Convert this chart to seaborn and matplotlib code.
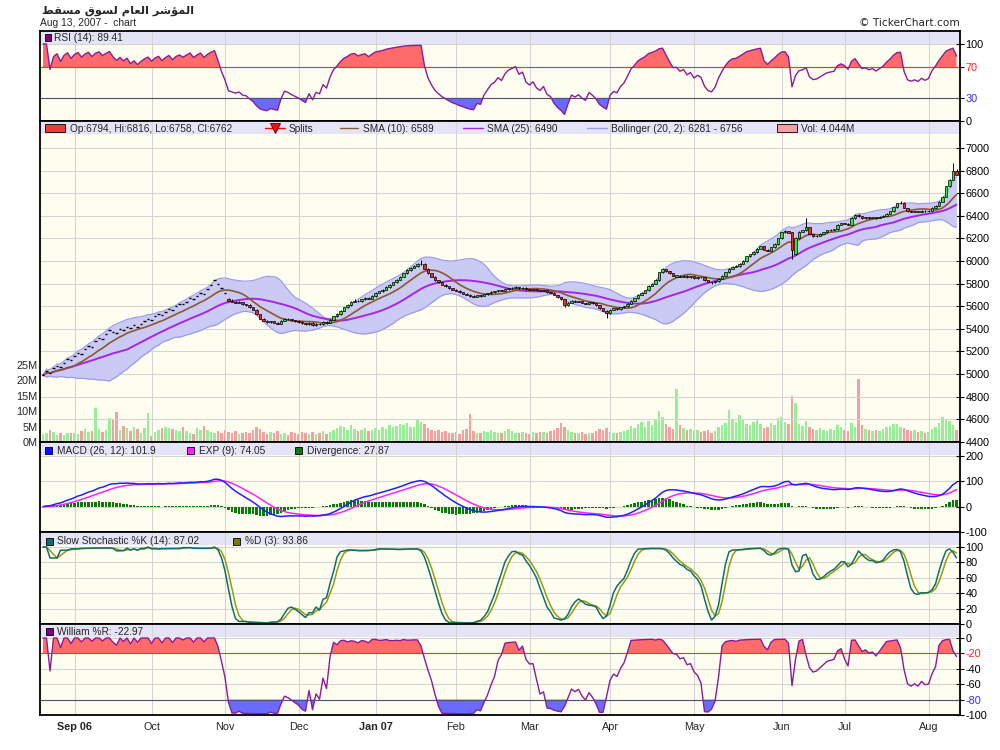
import numpy as np
import pandas as pd
import matplotlib
matplotlib.use("Agg")
import matplotlib.pyplot as plt
import seaborn as sns
from matplotlib.patches import Rectangle
from matplotlib.lines import Line2D

# ---------------------------
# Values
# ---------------------------
title_ar = "المؤشر العام لسوق مسقط"
subtitle = "Aug 13, 2007 -  chart"
credit = "© TickerChart.com"

month_labels = ["Sep 06", "Oct", "Nov", "Dec", "Jan 07", "Feb", "Mar",
                "Apr", "May", "Jun", "Jul", "Aug"]
month_pos = [9, 31, 52, 73, 95, 118, 139, 162, 186, 211, 229, 253]
bold_months = ["Sep 06", "Jan 07"]

# first weeks: only closing prices (drawn as dashes)
dash_close = [4990, 5025, 5010, 5050, 5070, 5060, 5100, 5130, 5120, 5160,
              5190, 5180, 5220, 5250, 5240, 5290, 5320, 5310, 5350, 5390,
              5375, 5365, 5400, 5390, 5420, 5405, 5430, 5420, 5445, 5470,
              5490, 5480, 5510, 5530, 5520, 5550, 5575, 5565, 5600, 5620,
              5615, 5640, 5670, 5660, 5690, 5720, 5710, 5750, 5790, 5830,
              5800, 5760, 5720]

candle_open = [5660, 5650, 5640, 5630, 5635, 5615, 5610, 5590, 5570, 5530,
               5490, 5470, 5460, 5465, 5455, 5445, 5470, 5490, 5485, 5475,
               5470, 5460, 5450, 5440, 5455, 5430, 5445, 5440, 5460, 5452,
               5480, 5510, 5530, 5560, 5590, 5610, 5640, 5650, 5645, 5660,
               5670, 5665, 5690, 5720, 5730, 5745, 5770, 5790, 5810, 5835,
               5860, 5890, 5920, 5940, 5955, 5970, 5975, 5930, 5890, 5860,
               5830, 5810, 5790, 5775, 5760, 5745, 5735, 5722, 5712, 5700,
               5690, 5685, 5695, 5690, 5705, 5715, 5725, 5730, 5740, 5735,
               5750, 5760, 5765, 5770, 5760, 5765, 5750, 5745, 5750, 5740,
               5735, 5740, 5725, 5720, 5700, 5680, 5660, 5610, 5630, 5650,
               5640, 5645, 5630, 5620, 5635, 5625, 5610, 5580, 5560, 5540,
               5570, 5580, 5575, 5590, 5600, 5620, 5650, 5670, 5700, 5720,
               5740, 5780, 5800, 5830, 5900, 5930, 5910, 5890, 5860, 5870,
               5860, 5870, 5855, 5865, 5850, 5860, 5855, 5830, 5815, 5810,
               5820, 5845, 5870, 5900, 5930, 5950, 5955, 5975, 6000, 6040,
               6060, 6080, 6110, 6130, 6100, 6090, 6120, 6150, 6200, 6255,
               6265, 6257, 6060, 6200, 6260, 6270, 6300, 6240, 6220, 6225,
               6240, 6255, 6270, 6275, 6280, 6320, 6335, 6330, 6320, 6380,
               6410, 6395, 6380, 6385, 6380, 6385, 6380, 6390, 6400, 6420,
               6440, 6475, 6510, 6515, 6470, 6440, 6435, 6440, 6435, 6445,
               6440, 6445, 6470, 6490, 6525, 6570, 6660, 6720, 6794]

candle_high = [5670, 5660, 5648, 5645, 5640, 5622, 5615, 5595, 5575, 5535,
               5495, 5475, 5472, 5468, 5460, 5475, 5495, 5498, 5490, 5480,
               5475, 5465, 5455, 5462, 5458, 5450, 5450, 5468, 5465, 5488,
               5515, 5540, 5565, 5595, 5620, 5648, 5660, 5655, 5668, 5680,
               5678, 5695, 5725, 5738, 5752, 5775, 5798, 5818, 5842, 5868,
               5895, 5928, 5948, 5962, 5978, 6009, 5980, 5935, 5895, 5865,
               5835, 5815, 5795, 5780, 5765, 5750, 5740, 5728, 5718, 5705,
               5695, 5700, 5698, 5710, 5720, 5730, 5735, 5745, 5742, 5755,
               5765, 5770, 5775, 5772, 5770, 5768, 5755, 5755, 5752, 5742,
               5745, 5742, 5728, 5722, 5702, 5684, 5662, 5635, 5655, 5652,
               5650, 5648, 5632, 5640, 5638, 5628, 5612, 5585, 5562, 5575,
               5585, 5582, 5595, 5605, 5625, 5655, 5675, 5705, 5725, 5745,
               5785, 5805, 5838, 5905, 5940, 5932, 5912, 5892, 5878, 5875,
               5875, 5872, 5868, 5866, 5862, 5862, 5858, 5832, 5818, 5825,
               5850, 5875, 5905, 5935, 5955, 5962, 5980, 6005, 6045, 6065,
               6085, 6115, 6135, 6132, 6102, 6125, 6155, 6205, 6260, 6270,
               6268, 6260, 6210, 6265, 6275, 6380, 6302, 6242, 6230, 6245,
               6260, 6275, 6280, 6285, 6325, 6340, 6338, 6332, 6385, 6415,
               6412, 6398, 6390, 6388, 6390, 6388, 6395, 6405, 6425, 6445,
               6480, 6515, 6535, 6518, 6472, 6445, 6445, 6442, 6450, 6448,
               6450, 6475, 6495, 6530, 6575, 6665, 6725, 6867, 6816]

candle_low = [5645, 5635, 5625, 5625, 5610, 5605, 5585, 5565, 5525, 5485,
              5465, 5455, 5455, 5450, 5440, 5440, 5465, 5480, 5470, 5462,
              5455, 5445, 5435, 5435, 5425, 5425, 5435, 5435, 5445, 5448,
              5475, 5505, 5525, 5555, 5585, 5605, 5635, 5640, 5640, 5655,
              5660, 5660, 5685, 5715, 5725, 5740, 5765, 5785, 5805, 5830,
              5855, 5885, 5915, 5935, 5950, 5965, 5925, 5885, 5855, 5825,
              5805, 5785, 5770, 5755, 5740, 5730, 5718, 5708, 5695, 5685,
              5680, 5680, 5685, 5686, 5700, 5710, 5720, 5725, 5730, 5730,
              5745, 5755, 5760, 5755, 5755, 5745, 5740, 5740, 5735, 5730,
              5730, 5720, 5715, 5695, 5675, 5655, 5590, 5605, 5625, 5635,
              5635, 5625, 5615, 5615, 5620, 5605, 5575, 5555, 5495, 5535,
              5565, 5570, 5570, 5585, 5595, 5615, 5645, 5665, 5695, 5715,
              5735, 5775, 5795, 5825, 5895, 5905, 5885, 5865, 5856, 5855,
              5855, 5850, 5850, 5845, 5845, 5850, 5825, 5810, 5800, 5805,
              5815, 5840, 5865, 5895, 5925, 5945, 5950, 5970, 5995, 6035,
              6055, 6075, 6105, 6095, 6085, 6085, 6115, 6145, 6195, 6250,
              6245, 6018, 6055, 6195, 6255, 6265, 6235, 6215, 6215, 6220,
              6235, 6250, 6265, 6270, 6275, 6315, 6325, 6315, 6315, 6375,
              6390, 6375, 6375, 6375, 6378, 6375, 6378, 6385, 6395, 6415,
              6435, 6470, 6505, 6465, 6435, 6430, 6430, 6430, 6432, 6435,
              6435, 6440, 6465, 6485, 6520, 6565, 6655, 6715, 6758]

candle_close = [5650, 5640, 5630, 5635, 5615, 5610, 5590, 5570, 5530, 5490,
                5470, 5460, 5465, 5455, 5445, 5470, 5490, 5485, 5475, 5468,
                5460, 5450, 5440, 5455, 5430, 5445, 5440, 5460, 5450, 5480,
                5510, 5530, 5560, 5590, 5610, 5640, 5650, 5645, 5660, 5670,
                5665, 5690, 5720, 5730, 5745, 5770, 5790, 5810, 5835, 5860,
                5890, 5920, 5940, 5955, 5970, 5975, 5930, 5890, 5860, 5830,
                5810, 5790, 5775, 5760, 5745, 5735, 5722, 5712, 5700, 5690,
                5685, 5695, 5690, 5705, 5715, 5725, 5730, 5740, 5735, 5750,
                5760, 5765, 5770, 5760, 5765, 5750, 5745, 5750, 5740, 5735,
                5740, 5725, 5720, 5700, 5680, 5660, 5610, 5630, 5650, 5640,
                5645, 5630, 5620, 5635, 5625, 5610, 5580, 5560, 5540, 5570,
                5580, 5575, 5590, 5600, 5620, 5650, 5670, 5700, 5720, 5740,
                5780, 5800, 5830, 5900, 5930, 5910, 5890, 5870, 5872, 5860,
                5870, 5855, 5865, 5850, 5860, 5855, 5830, 5815, 5810, 5820,
                5845, 5870, 5900, 5930, 5950, 5955, 5975, 6000, 6040, 6060,
                6080, 6110, 6130, 6100, 6090, 6120, 6150, 6200, 6255, 6265,
                6250, 6100, 6200, 6260, 6270, 6300, 6240, 6220, 6225, 6240,
                6255, 6270, 6275, 6280, 6320, 6335, 6330, 6320, 6380, 6410,
                6395, 6380, 6385, 6380, 6385, 6380, 6390, 6400, 6420, 6440,
                6475, 6510, 6515, 6470, 6440, 6435, 6440, 6435, 6445, 6440,
                6445, 6470, 6490, 6525, 6570, 6660, 6720, 6794, 6762]

# daily volume, millions
volume_m = [2.5, 2.8, 3.8, 3.2, 2.4, 3.0, 2.2, 2.9, 2.8, 3.0,
            2.5, 3.5, 4.2, 3.1, 3.5, 11.0, 4.1, 3.2, 3.8, 7.8,
            7.6, 9.7, 4.0, 5.2, 4.5, 3.5, 4.8, 4.2, 3.0, 4.6,
            9.3, 2.0, 3.2, 3.8, 4.5, 5.0, 4.6, 4.2, 4.0, 3.5,
            4.8, 3.6, 3.0, 2.5, 4.6, 3.8, 5.2, 4.0, 3.4, 3.0,
            3.6, 2.8, 4.0,
            3.2, 2.8, 3.5, 2.6, 3.0, 3.4, 2.9, 3.8, 5.0, 4.2,
            3.1, 2.5, 3.3, 2.8, 3.6, 2.7, 3.0, 2.4, 3.2, 2.9,
            2.6, 3.1, 2.8, 2.5, 3.4, 2.6, 3.0, 3.5, 2.7, 3.3,
            3.8, 4.5, 5.2, 4.8, 4.0, 5.5, 4.2, 3.6, 4.0, 4.4,
            3.5, 4.0, 4.6, 3.8, 5.0, 4.2, 5.6, 4.8, 5.2, 6.0,
            5.5, 6.2, 4.8, 5.0, 7.2, 6.5, 5.8, 4.6, 4.0, 3.6,
            3.8, 3.2, 3.5, 2.8, 3.0, 3.4, 2.6, 3.8, 4.2, 9.0,
            3.5, 3.0, 2.8, 3.6, 3.2, 4.0, 3.4, 3.0, 2.8, 3.6,
            4.2, 3.5, 3.0, 2.8, 3.2, 3.0, 2.6, 3.4, 2.9, 3.1,
            3.3, 2.8, 3.5, 4.0, 4.6, 6.2, 5.0, 3.8, 3.2, 3.0,
            2.8, 3.4, 2.6, 3.0, 2.8, 3.6, 4.2, 3.8, 4.5, 3.2,
            3.0, 2.8, 3.4, 3.6, 4.0, 5.2, 4.6, 5.8, 6.5, 5.0,
            6.8, 5.5, 7.0, 10.2, 8.0, 6.0, 4.8, 4.2, 17.2, 5.6,
            4.5, 3.8, 4.2, 3.6, 4.0, 3.2, 3.5, 3.8, 3.0, 3.6,
            4.8, 5.6, 6.2, 10.5, 7.0, 6.5, 8.8, 7.5, 6.0, 5.5,
            6.4, 7.2, 5.8, 4.6, 5.0, 6.2, 5.5, 7.8, 8.2, 6.5,
            5.8, 15.0, 12.5, 6.0, 5.2, 6.8, 5.0, 4.2, 3.8, 4.5,
            4.0, 3.6, 4.2, 3.8, 5.5, 4.8, 4.0, 3.6, 6.2, 5.0,
            20.5, 5.5, 4.2, 3.8, 3.5, 4.0, 3.6, 4.2, 4.8, 5.2,
            6.0, 5.8, 5.0, 4.6, 4.0, 3.5, 3.8, 3.2, 3.6, 3.0,
            3.4, 4.2, 5.0, 6.2, 8.0, 7.5, 6.8, 5.5, 4.044]

# legend texts as printed on the chart
rsi_label = "RSI (14): 89.41"
ohlc_label = "Op:6794, Hi:6816, Lo:6758, Cl:6762"
sma10_label = "SMA (10): 6589"
sma25_label = "SMA (25): 6490"
boll_label = "Bollinger (20, 2): 6281 - 6756"
vol_label = "Vol: 4.044M"
macd_label = "MACD (26, 12): 101.9"
exp_label = "EXP (9): 74.05"
div_label = "Divergence: 27.87"
stk_label = "Slow Stochastic %K (14): 87.02"
std_label = "%D (3): 93.86"
wr_label = "William %R: -22.97"

# ---------------------------
# Arabic title: join letters and put them in visual order
# ---------------------------
AR_FORMS = {
    "ا": ("\ufe8d", "\ufe8e", None, None),
    "ؤ": ("\ufe85", "\ufe86", None, None),
    "ر": ("\ufead", "\ufeae", None, None),
    "و": ("\ufeed", "\ufeee", None, None),
    "ل": ("\ufedd", "\ufede", "\ufedf", "\ufee0"),
    "م": ("\ufee1", "\ufee2", "\ufee3", "\ufee4"),
    "ش": ("\ufeb5", "\ufeb6", "\ufeb7", "\ufeb8"),
    "ع": ("\ufec9", "\ufeca", "\ufecb", "\ufecc"),
    "س": ("\ufeb1", "\ufeb2", "\ufeb3", "\ufeb4"),
    "ق": ("\ufed5", "\ufed6", "\ufed7", "\ufed8"),
    "ط": ("\ufec1", "\ufec2", "\ufec3", "\ufec4"),
}

def shape_arabic(text):
    words = []
    for word in text.split(" "):
        glyphs = []
        for k, ch in enumerate(word):
            iso, fin, ini, med = AR_FORMS[ch]
            joins_prev = k > 0 and AR_FORMS[word[k - 1]][2] is not None
            joins_next = k < len(word) - 1 and ini is not None
            if joins_prev and joins_next:
                glyphs.append(med)
            elif joins_prev:
                glyphs.append(fin)
            elif joins_next:
                glyphs.append(ini)
            else:
                glyphs.append(iso)
        words.append("".join(reversed(glyphs)))
    return " ".join(reversed(words))

# ---------------------------
# Series + indicators
# ---------------------------
n_dash = len(dash_close)
assert len(candle_open) == len(candle_high) == len(candle_low) == len(candle_close)
close = np.array(dash_close + candle_close, float)
opn = np.array(dash_close + candle_open, float)
high = np.array(dash_close + candle_high, float)
low = np.array(dash_close + candle_low, float)
vol = np.array(volume_m, float)
assert len(vol) == len(close)
idx = np.arange(len(close))

cs = pd.Series(close)
sma10 = cs.rolling(10, min_periods=1).mean().values
sma25 = cs.rolling(25, min_periods=1).mean().values
mid20 = cs.rolling(20, min_periods=1).mean()
sd20 = cs.rolling(20, min_periods=1).std(ddof=0)
boll_up = (mid20 + 2 * sd20).values
boll_lo = (mid20 - 2 * sd20).values

# RSI with exponential averages of gains / losses
delta = cs.diff().fillna(0)
gain = delta.clip(lower=0).ewm(span=14, adjust=False).mean()
loss = (-delta.clip(upper=0)).ewm(span=14, adjust=False).mean()
rsi = (100 * gain / (gain + loss).replace(0, np.nan)).fillna(100).values

macd = cs.ewm(span=12, adjust=False).mean() - cs.ewm(span=26, adjust=False).mean()
signal = macd.ewm(span=9, adjust=False).mean()
diverg = (macd - signal).values
macd, signal = macd.values, signal.values

hh = pd.Series(high).rolling(14, min_periods=1).max()
ll = pd.Series(low).rolling(14, min_periods=1).min()
rng = (hh - ll).replace(0, np.nan)
fast_k = (100 * (cs - ll) / rng).fillna(100)
slow_k = fast_k.rolling(3, min_periods=1).mean()
slow_d = slow_k.rolling(3, min_periods=1).mean()
will_r = (-100 * (hh - cs) / rng).fillna(0).values
slow_k, slow_d = slow_k.values, slow_d.values

prev_close = np.r_[close[0], close[:-1]]
ref = np.where(idx < n_dash, prev_close, opn)
vol_up = close >= ref

# ---------------------------
# Figure setup
# ---------------------------
sns.set_style("white")
plt.rcParams['font.family'] = ['Liberation Sans', 'DejaVu Sans']
plt.rcParams['axes.unicode_minus'] = False

W, H = 1000, 750
CREAM = "#FEFEF0"
BAND = "#E4E4F6"
GRID = "#D4D4D4"
FS_TICK = 7.8
FS_LEG = 7.3
XLO, XHI = -0.86, 262.0

fig = plt.figure(figsize=(W / 100, H / 100), dpi=100)

def fx(px):
    return px / W

def fy(py):
    return 1 - py / H

def add_panel(top, bottom, **kw):
    ax = fig.add_axes([fx(40), fy(bottom), 920 / W, (bottom - top) / H], **kw)
    ax.set_xlim(XLO, XHI)
    return ax

def dress(ax, top, bottom, ylim, ticks, labels, band=True, face=True):
    ax.set_ylim(*ylim)
    if face:
        ax.set_facecolor(CREAM)
    if band:
        frac = 13 / (bottom - top)
        ax.add_patch(Rectangle((0, 1 - frac), 1, frac, transform=ax.transAxes,
                               facecolor=BAND, edgecolor="none", zorder=0.2))
    ax.yaxis.tick_right()
    ax.set_yticks(ticks)
    ax.set_yticklabels(labels)
    ax.tick_params(axis="y", direction="inout", length=6, width=0.8, pad=1,
                   labelsize=FS_TICK, colors="black")
    ax.set_xticks(month_pos)
    ax.tick_params(axis="x", length=0, labelbottom=False)
    ax.grid(True, color=GRID, lw=0.8)
    ax.set_axisbelow(True)
    for s in ax.spines.values():
        s.set_color("black")
        s.set_linewidth(1.3)

def legend_box(x0, y0, w, h, color):
    fig.add_artist(Rectangle((fx(x0), fy(y0 + h)), w / W, h / H,
                             transform=fig.transFigure, facecolor=color,
                             edgecolor="black", lw=0.6, zorder=10))

def legend_line(x0, x1, y, color, **kw):
    fig.add_artist(Line2D([fx(x0), fx(x1)], [fy(y), fy(y)],
                          transform=fig.transFigure, color=color, zorder=10, **kw))

def legend_text(x, y, s):
    fig.text(fx(x), fy(y), s, fontsize=FS_LEG, ha="left", va="center", zorder=11)

# ---------------------------
# RSI panel
# ---------------------------
ax_rsi = add_panel(31, 121)
dress(ax_rsi, 31, 121, (0, 116.9), [0, 30, 70, 100], ["0", "30", "70", "100"])
ax_rsi.fill_between(idx, rsi, 70, where=rsi >= 70, interpolate=True,
                    color="#FF6A6A", lw=0, zorder=1.5)
ax_rsi.fill_between(idx, rsi, 30, where=rsi <= 30, interpolate=True,
                    color="#6A6AFF", lw=0, zorder=1.5)
ax_rsi.axhline(70, color="#FF3030", lw=0.8, zorder=1.6)
ax_rsi.axhline(30, color="#505078", lw=0.8, zorder=1.6)
sns.lineplot(x=idx, y=rsi, ax=ax_rsi, color="#8A1C9A", lw=1.0, zorder=2)
ax_rsi.set_xlabel("")
ax_rsi.set_ylabel("")
ax_rsi.set_xlim(XLO, XHI)
ax_rsi.get_yticklabels()[1].set_color("#3030FF")
ax_rsi.get_yticklabels()[2].set_color("#FF2020")

# ---------------------------
# Price + volume panel
# ---------------------------
ax_vol = add_panel(121, 442)
ax_vol.set_facecolor(CREAM)
ax_vol.add_patch(Rectangle((0, 1 - 13 / 321), 1, 13 / 321, transform=ax_vol.transAxes,
                           facecolor=BAND, edgecolor="none", zorder=0.2))
ax_vol.bar(idx, vol, width=0.62, color=np.where(vol_up, "#98EE98", "#F4A0A0"),
           lw=0, zorder=1)
ax_vol.set_ylim(0, 104.2)
ax_vol.set_yticks([0, 5, 10, 15, 20, 25])
ax_vol.set_yticklabels(["0M", "5M", "10M", "15M", "20M", "25M"])
ax_vol.tick_params(axis="y", length=0, pad=2, labelsize=FS_TICK)
ax_vol.tick_params(axis="x", length=0, labelbottom=False)
for s in ax_vol.spines.values():
    s.set_visible(False)

ax_main = add_panel(121, 442, sharex=ax_vol)
ax_main.patch.set_visible(False)
price_ticks = list(range(4400, 7001, 200))
dress(ax_main, 121, 442, (4398, 7239), price_ticks, [str(t) for t in price_ticks],
      band=False, face=False)
ax_main.fill_between(idx, boll_lo, boll_up, color="#CACAF4", lw=0, zorder=1.8)
sns.lineplot(x=idx, y=boll_up, ax=ax_main, color="#9C9CF0", lw=0.9, zorder=1.9)
sns.lineplot(x=idx, y=boll_lo, ax=ax_main, color="#9C9CF0", lw=0.9, zorder=1.9)
sns.lineplot(x=idx, y=sma25, ax=ax_main, color="#A626E8", lw=1.4, zorder=2.2)
sns.lineplot(x=idx, y=sma10, ax=ax_main, color="#8B5A2B", lw=1.2, zorder=2.3)

ax_main.hlines(close[:n_dash], idx[:n_dash] - 0.38, idx[:n_dash] + 0.38,
               color="black", lw=1.0, zorder=3)
ci = idx[n_dash:]
co, cc, chh, cll = opn[n_dash:], close[n_dash:], high[n_dash:], low[n_dash:]
up = cc >= co
ax_main.vlines(ci, cll, chh, color="black", lw=0.7, zorder=3)
ax_main.bar(ci, np.abs(cc - co), bottom=np.minimum(co, cc), width=0.8,
            color=np.where(up, "#2EE62E", "#EE2A2A"), edgecolor="black",
            lw=0.5, zorder=4)
ax_main.set_xlabel("")
ax_main.set_ylabel("")
ax_main.set_xlim(XLO, XHI)

# ---------------------------
# MACD panel
# ---------------------------
ax_macd = add_panel(442, 532)
dress(ax_macd, 442, 532, (-100, 255.3), [-100, 0, 100, 200], ["-100", "0", "100", "200"])
ax_macd.bar(idx, diverg, width=0.6, color="#0A7A0A", lw=0, zorder=1.8)
sns.lineplot(x=idx, y=signal, ax=ax_macd, color="#FF22FF", lw=1.1, zorder=2)
sns.lineplot(x=idx, y=macd, ax=ax_macd, color="#2222FF", lw=1.1, zorder=2.1)
ax_macd.set_xlabel("")
ax_macd.set_ylabel("")
ax_macd.set_xlim(XLO, XHI)

# ---------------------------
# Slow stochastic panel
# ---------------------------
ax_sto = add_panel(532, 624)
dress(ax_sto, 532, 624, (0, 119.5), [0, 20, 40, 60, 80, 100],
      ["0", "20", "40", "60", "80", "100"])
sns.lineplot(x=idx, y=slow_d, ax=ax_sto, color="#9A9A10", lw=1.1, zorder=2)
sns.lineplot(x=idx, y=slow_k, ax=ax_sto, color="#126E6E", lw=1.1, zorder=2.1)
ax_sto.set_xlabel("")
ax_sto.set_ylabel("")
ax_sto.set_xlim(XLO, XHI)

# ---------------------------
# William %R panel
# ---------------------------
ax_wr = add_panel(624, 715)
dress(ax_wr, 624, 715, (-100, 18.2), [-100, -80, -60, -40, -20, 0],
      ["-100", "-80", "-60", "-40", "-20", "0"])
ax_wr.fill_between(idx, will_r, -20, where=will_r >= -20, interpolate=True,
                   color="#FF6A6A", lw=0, zorder=1.5)
ax_wr.fill_between(idx, will_r, -80, where=will_r <= -80, interpolate=True,
                   color="#6A6AFF", lw=0, zorder=1.5)
ax_wr.axhline(-20, color="#FF3030", lw=0.8, zorder=1.6)
ax_wr.axhline(-80, color="#505078", lw=0.8, zorder=1.6)
sns.lineplot(x=idx, y=will_r, ax=ax_wr, color="#8A1C9A", lw=1.0, zorder=2)
ax_wr.set_xlabel("")
ax_wr.set_ylabel("")
ax_wr.set_xlim(XLO, XHI)
ax_wr.get_yticklabels()[1].set_color("#3030FF")
ax_wr.get_yticklabels()[4].set_color("#FF2020")
ax_wr.set_xticks(month_pos)
ax_wr.set_xticklabels(month_labels)
ax_wr.tick_params(axis="x", direction="inout", length=6, width=0.8, pad=2,
                  labelbottom=True, labelsize=FS_TICK)
for lab in ax_wr.get_xticklabels():
    if lab.get_text() in bold_months:
        lab.set_fontweight("bold")

# ---------------------------
# Legends and header texts
# ---------------------------
legend_box(45, 34, 6, 7, "#800080")
legend_text(54, 38, rsi_label)

legend_box(45, 124, 20, 8, "#F03A3A")
legend_text(70, 128.5, ohlc_label)
legend_line(265, 285, 128, "#FF0000", lw=1.0)
fig.add_artist(Line2D([fx(275)], [fy(128)], transform=fig.transFigure, marker="v",
                      ms=7, color="#EE1111", mec="#550000", mew=0.6, zorder=11))
legend_text(289, 128.5, "Splits")
legend_line(340, 358, 128, "#8B5A2B", lw=1.0)
legend_text(363, 128.5, sma10_label)
legend_line(463, 483, 128, "#A626E8", lw=1.0)
legend_text(487, 128.5, sma25_label)
legend_line(587, 607, 128, "#9C9CF0", lw=1.0)
legend_text(611, 128.5, boll_label)
legend_box(777, 124, 20, 8, "#F4A0A0")
legend_text(801, 128.5, vol_label)

legend_box(45, 447, 7, 7, "#1010FF")
legend_text(57, 450.5, macd_label)
legend_box(187, 447, 7, 7, "#FF22FF")
legend_text(199, 450.5, exp_label)
legend_box(295, 447, 7, 7, "#0A7A0A")
legend_text(307, 450.5, div_label)

legend_box(46, 538, 7, 7, "#126E6E")
legend_text(57, 541.5, stk_label)
legend_box(233, 538, 7, 7, "#7A7A00")
legend_text(245, 541.5, std_label)

legend_box(46, 628, 7, 7, "#800080")
legend_text(57, 632, wr_label)

fig.text(fx(42), fy(11), shape_arabic(title_ar), fontsize=8.2, fontweight="bold",
         family=["DejaVu Sans"], ha="left", va="center")
fig.text(fx(40), fy(23), subtitle, fontsize=7.4, ha="left", va="center")
fig.text(fx(960), fy(22.5), credit, fontsize=7.6, family=["DejaVu Sans"],
         ha="right", va="center")

fig.savefig("out.png", dpi=100, facecolor="white")
